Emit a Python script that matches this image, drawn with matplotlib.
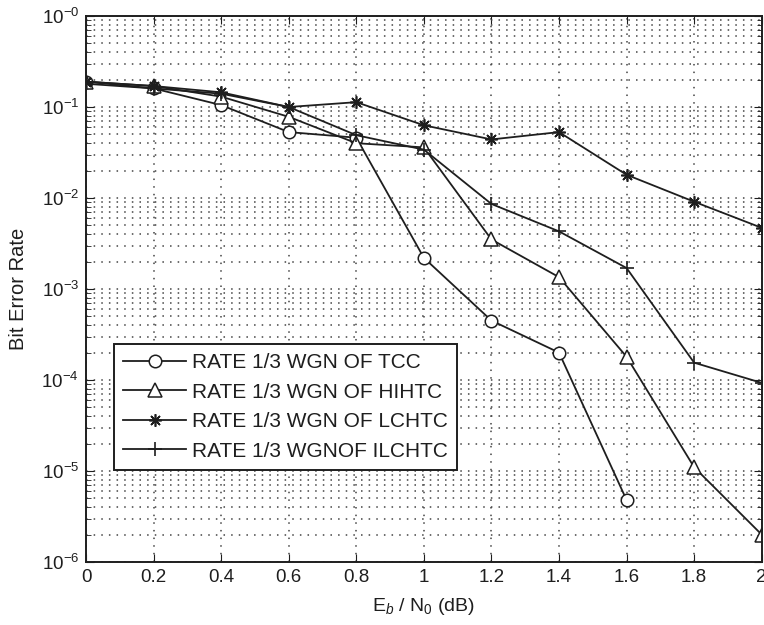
import matplotlib.pyplot as plt
import numpy as np
from matplotlib.ticker import LogLocator, NullFormatter

plt.rcParams['font.family'] = ['Liberation Sans', 'DejaVu Sans']
plt.rcParams['mathtext.fontset'] = 'custom'
plt.rcParams['mathtext.rm'] = 'Liberation Sans'
plt.rcParams['mathtext.it'] = 'Liberation Sans:italic'

# Eb/N0 (dB)
ebno = [0, 0.2, 0.4, 0.6, 0.8, 1.0, 1.2, 1.4, 1.6, 1.8, 2.0]

ber_tcc = [0.19, 0.16, 0.105, 0.053, 0.046, 0.0022, 4.5e-4, 2.0e-4, 4.8e-6]
ber_hihtc = [0.19, 0.17, 0.13, 0.078, 0.040, 0.036, 0.0035, 0.00135, 1.8e-4, 1.1e-5, 2.0e-6]
ber_lchtc = [0.19, 0.17, 0.145, 0.10, 0.113, 0.063, 0.044, 0.053, 0.018, 0.0091, 0.0047]
ber_ilchtc = [0.18, 0.16, 0.14, 0.10, 0.049, 0.034, 0.0086, 0.0043, 0.0017, 1.55e-4, 9.3e-5]

labels = ['RATE 1/3 WGN OF TCC', 'RATE 1/3 WGN OF HIHTC',
          'RATE 1/3 WGN OF LCHTC', 'RATE 1/3 WGNOF ILCHTC']

ytick_vals = [1e0, 1e-1, 1e-2, 1e-3, 1e-4, 1e-5, 1e-6]
ytick_labels = [r'$10^{-0}$', r'$10^{-1}$', r'$10^{-2}$', r'$10^{-3}$',
                r'$10^{-4}$', r'$10^{-5}$', r'$10^{-6}$']

fig = plt.figure(figsize=(7.64, 6.25), dpi=100)
ax = fig.add_axes([0.1126, 0.1008, 0.8844, 0.8736])

lw = 1.3
c = '#1e1e1e'
ax.plot(ebno[:len(ber_tcc)], ber_tcc, color=c, lw=lw, marker='o',
        ms=9, mfc='white', mec=c, mew=1.1, label=labels[0])
ax.plot(ebno, ber_hihtc, color=c, lw=lw, marker='^',
        ms=10, mfc='white', mec=c, mew=1.1, label=labels[1])
ax.plot(ebno, ber_lchtc, color=c, lw=lw, marker=(8, 2, 0),
        ms=9, mec=c, mew=1.2, label=labels[2])
ax.plot(ebno, ber_ilchtc, color=c, lw=lw, marker='+',
        ms=10, mec=c, mew=1.2, label=labels[3])

ax.set_yscale('log')
ax.set_xlim(0, 2)
ax.set_ylim(1e-6, 1)
ax.set_xticks(np.arange(0, 2.01, 0.2))
ax.set_xticklabels(['0', '0.2', '0.4', '0.6', '0.8', '1', '1.2', '1.4', '1.6', '1.8', '2'])
ax.set_yticks(ytick_vals)
ax.set_yticklabels(ytick_labels)
ax.yaxis.set_minor_locator(LogLocator(base=10, subs=np.arange(2, 10), numticks=20))
ax.yaxis.set_minor_formatter(NullFormatter())

ax.tick_params(which='both', direction='in', top=True, right=True,
               labelsize=13.5, colors=c)
ax.tick_params(which='major', length=6, pad=5)
ax.tick_params(which='minor', length=3.5)

dots = (0, (1, 4))
ax.grid(True, which='major', axis='both', linestyle=dots, color='#444444', lw=1.1)
ax.grid(True, which='minor', axis='y', linestyle=dots, color='#444444', lw=1.1)

for sp in ax.spines.values():
    sp.set_linewidth(1.4)
    sp.set_color(c)

ax.set_xlabel(r'E$_b$ / N$_0$ (dB)', fontsize=14, color=c, labelpad=7)
ax.set_ylabel('Bit Error Rate', fontsize=14.5, color=c, labelpad=10)

leg = ax.legend(loc='lower left', bbox_to_anchor=(0.0414, 0.1685), fontsize=15,
                frameon=True, fancybox=False, edgecolor=c,
                handlelength=3.0, borderpad=0.45, labelspacing=0.5,
                handletextpad=0.3, borderaxespad=0.0)
leg.get_frame().set_linewidth(1.4)
leg.get_frame().set_alpha(1)
for t in leg.get_texts():
    t.set_color(c)

fig.savefig('out.png', dpi=100)
